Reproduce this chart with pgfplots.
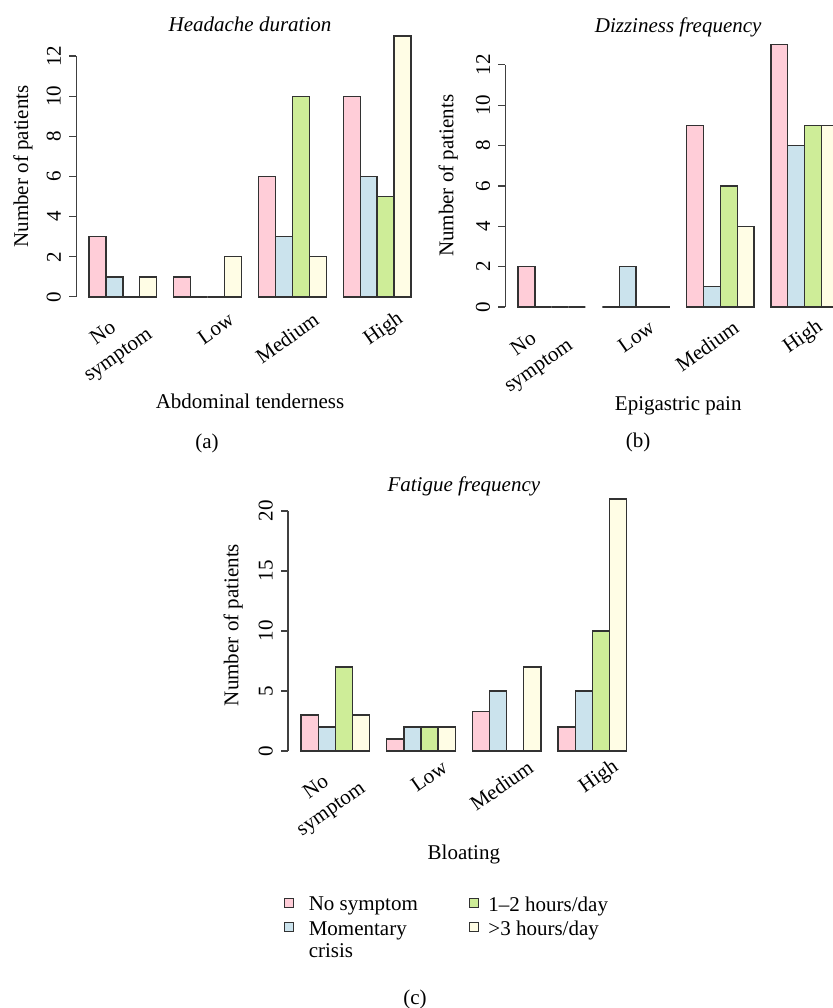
\documentclass[border=0pt]{standalone}
\usepackage{fontspec}
\setmainfont{Liberation Serif}
\usepackage{pgfplots}
\pgfplotsset{compat=1.18}
\definecolor{cpink}{RGB}{255,205,216}
\definecolor{cblue}{RGB}{203,227,237}
\definecolor{cgreen}{RGB}{206,237,152}
\definecolor{cyellow}{RGB}{255,253,229}
\definecolor{edge}{RGB}{50,50,50}
\definecolor{axgray}{RGB}{64,64,64}
\pgfplotsset{
  barpanel/.style={
    scale only axis,
    axis line style={draw=none},
    ytick pos=left,
    tick align=outside,
    major tick length=7pt,
    tick style={axgray, line width=1.1pt},
    xtick style={draw=none},
    xtick={8,13,18},
    xticklabels={Low,Medium,High},
    extra x ticks={3},
    extra x tick labels={{No\\symptom}},
    /pgf/number format/assume math mode=true,
    yticklabel style={rotate=90, anchor=south, inner sep=0pt},
    yticklabel shift=8pt,
    title style={font=\fontsize{21}{26}\selectfont\itshape, anchor=base},
    xlabel style={anchor=base},
    ylabel style={anchor=center},
    ylabel={Number of patients},
    xmin=0.24, xmax=20.76,
    clip=false,
  },
  bars/.style={ybar, bar width=1, bar shift=0pt, draw=edge, line width=1.3pt, fill=#1},
  legA/.style={legend image code/.code={\draw[##1] (0pt,-2.5pt) rectangle (9pt,6.5pt); \path[draw=none,fill=none] (0pt,1pt) rectangle (24pt,2pt);}},
  legB/.style={legend image code/.code={\draw[##1] (0pt,-2.5pt) rectangle (9pt,6.5pt); \path[draw=none,fill=none] (0pt,1pt) rectangle (19pt,2pt);}},
}
\begin{document}
\begin{tikzpicture}[x=1pt,y=1pt,font=\fontsize{21}{26}\selectfont]
% (a)
\begin{axis}[barpanel,
  at={(76.1pt,700.6pt)}, anchor=south west,
  width=347.8pt, height=281.9pt,
  ymin=-0.52, ymax=13.52, ytick={0,2,...,12},
  xticklabel style={align=center, inner sep=0pt, xshift=24pt, yshift=-3pt, rotate=35, anchor=east},
  extra x tick style={tick style={draw=none}, xticklabel style={xshift=-5.7pt, yshift=-2.1pt}},
  title={Headache duration}, title style={at={(axis description cs:0.5,0.958)}},
  xlabel={Abdominal tenderness}, xlabel style={at={(axis description cs:0.5,-0.357)}},
  ylabel style={at={(axis description cs:-0.153,0.5)}},
]
\addplot[bars=cpink] coordinates {(1.5,3) (6.5,1) (11.5,6) (16.5,10)};
\addplot[bars=cblue] coordinates {(2.5,1) (7.5,0) (12.5,3) (17.5,6)};
\addplot[bars=cgreen] coordinates {(3.5,0) (8.5,0) (13.5,10) (18.5,5)};
\addplot[bars=cyellow] coordinates {(4.5,1) (9.5,2) (14.5,2) (19.5,13)};
\draw[axgray, line width=1.1pt] (axis cs:0.24,0) -- (axis cs:0.24,12);
\end{axis}
% (b)
\begin{axis}[barpanel,
  at={(505.2pt,690.5pt)}, anchor=south west,
  width=346pt, height=283.2pt,
  ymin=-0.52, ymax=13.52, ytick={0,2,...,12},
  xticklabel style={align=center, inner sep=0pt, xshift=16pt, yshift=-1pt, rotate=35, anchor=east},
  extra x tick style={tick style={draw=none}, xticklabel style={xshift=-7.8pt, yshift=-4.4pt}},
  title={Dizziness frequency}, title style={at={(axis description cs:0.5,0.985)}},
  xlabel={Epigastric pain}, xlabel style={at={(axis description cs:0.5,-0.330)}},
  ylabel style={at={(axis description cs:-0.165,0.5)}},
]
\addplot[bars=cpink] coordinates {(1.5,2) (6.5,0) (11.5,9) (16.5,13)};
\addplot[bars=cblue] coordinates {(2.5,0) (7.5,2) (12.5,1) (17.5,8)};
\addplot[bars=cgreen] coordinates {(3.5,0) (8.5,0) (13.5,6) (18.5,9)};
\addplot[bars=cyellow] coordinates {(4.5,0) (9.5,0) (14.5,4) (19.5,9)};
\draw[axgray, line width=1.1pt] (axis cs:0.24,0) -- (axis cs:0.24,12);
\end{axis}
% (c)
\begin{axis}[barpanel,
  at={(288pt,246.9pt)}, anchor=south west,
  width=351.7pt, height=272.2pt,
  ymin=-0.84, ymax=21.84, ytick={0,5,...,20},
  xticklabel style={align=center, inner sep=0pt, xshift=24pt, yshift=3pt, rotate=35, anchor=east},
  extra x tick style={tick style={draw=none}, xticklabel style={xshift=-9.1pt, yshift=-7.7pt}},
  title={Fatigue frequency}, title style={at={(axis description cs:0.5,0.968)}},
  xlabel={Bloating}, xlabel style={at={(axis description cs:0.5,-0.363)}},
  ylabel style={at={(axis description cs:-0.156,0.5)}},
  legend columns=2, transpose legend,
  legend cell align=left,
  legend style={at={(axis description cs:-0.011,-0.498)}, anchor=north west, draw=none, fill=none,
    inner sep=0pt, outer sep=0pt, row sep=8.5pt, column sep=0pt, nodes={inner sep=0pt}},
]
\addplot[bars=cpink, legA] coordinates {(1.5,3) (6.5,1) (11.5,3.3) (16.5,2)};
\addplot[bars=cblue, legA] coordinates {(2.5,2) (7.5,2) (12.5,5) (17.5,5)};
\addplot[bars=cgreen, legB] coordinates {(3.5,7) (8.5,2) (13.5,0) (18.5,10)};
\addplot[bars=cyellow, legB] coordinates {(4.5,3) (9.5,2) (14.5,7) (19.5,21)};
\draw[axgray, line width=1.1pt] (axis cs:0.24,0) -- (axis cs:0.24,20);
\legend{{\makebox[160pt][l]{No symptom}},{\parbox[t]{160pt}{\fontsize{21}{22}\selectfont Momentary\\crisis}},{1–2 hours/day},{>3 hours/day}}
\end{axis}
\node[anchor=center] at (207pt,565pt) {(a)};
\node[anchor=center] at (638pt,566pt) {(b)};
\node[anchor=center] at (415pt,9pt) {(c)};
\pgfresetboundingbox
\useasboundingbox (0pt,0pt) rectangle (832pt,1008pt);
\end{tikzpicture}
\end{document}
